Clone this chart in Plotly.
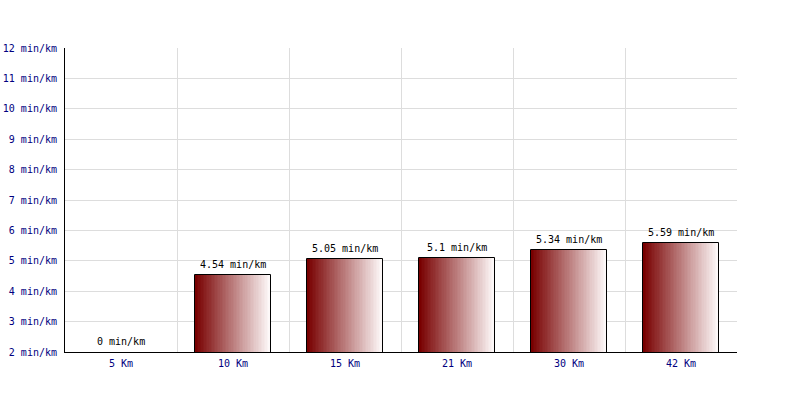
import plotly.graph_objects as go

categories = ["5 Km", "10 Km", "15 Km", "21 Km", "30 Km", "42 Km"]
pace = [0, 4.54, 5.05, 5.1, 5.34, 5.59]
label_texts = ["0 min/km", "4.54 min/km", "5.05 min/km", "5.1 min/km", "5.34 min/km", "5.59 min/km"]

Y_MIN, Y_MAX = 2, 12
BAR_W = 0.67
N_SLICES = 48
C0 = (120, 0, 0)
C1 = (253, 248, 248)
FONT = "DejaVu Sans Mono"
FS = 10

fig = go.Figure()

step = BAR_W / N_SLICES
for k in range(N_SLICES):
    t = k / (N_SLICES - 1)
    col = "rgb({},{},{})".format(*[round(a + (b - a) * t) for a, b in zip(C0, C1)])
    fig.add_trace(go.Bar(
        x=categories, y=pace,
        width=step * 1.15, offset=-BAR_W / 2 + k * step,
        marker=dict(color=col, line=dict(width=0)),
        hoverinfo="skip", showlegend=False,
    ))

# outline
fig.add_trace(go.Bar(
    x=categories, y=pace, width=BAR_W, offset=-BAR_W / 2,
    marker=dict(color="rgba(0,0,0,0)", line=dict(color="black", width=1)),
    showlegend=False,
))

for c, v, txt in zip(categories, pace, label_texts):
    fig.add_annotation(x=c, y=max(v, Y_MIN), text=txt, showarrow=False,
                       yanchor="bottom", yshift=3,
                       font=dict(family=FONT, size=FS, color="black"))

fig.update_layout(
    width=800, height=400,
    margin=dict(l=65, r=63, t=48, b=48, autoexpand=False),
    paper_bgcolor="white", plot_bgcolor="white",
    barmode="overlay", bargap=0,
    font=dict(family=FONT, size=FS, color="#000080"),
    xaxis=dict(type="category", range=[-0.5, 5.5], showgrid=False,
               showline=True, linecolor="black", linewidth=1,
               ticks="", ticklabelstandoff=2, automargin=False,
               tickfont=dict(family=FONT, size=FS, color="#000080")),
    xaxis2=dict(overlaying="x", range=[-0.5, 5.5], tickmode="array",
                tickvals=[i - 0.5 for i in range(len(categories) + 1)],
                showticklabels=False, showgrid=True, gridcolor="#dddddd",
                gridwidth=1, zeroline=False, showline=False, ticks="",
                automargin=False),
    yaxis=dict(range=[Y_MIN, Y_MAX], tickmode="linear", tick0=Y_MIN, dtick=1,
               ticksuffix=" min/km", showgrid=True, gridcolor="#dddddd",
               zeroline=False, showline=True, linecolor="black", linewidth=1,
               ticks="", ticklabelstandoff=5, automargin=False,
               tickfont=dict(family=FONT, size=FS, color="#000080")),
)
# dummy trace to activate xaxis2
fig.add_trace(go.Scatter(x=[0], y=[Y_MIN - 5], xaxis="x2", mode="markers",
                         marker=dict(opacity=0), hoverinfo="skip", showlegend=False))

fig.write_html("out.html", config={"displayModeBar": False},
               post_script="document.body.style.margin='0';document.body.style.overflow='hidden';")
